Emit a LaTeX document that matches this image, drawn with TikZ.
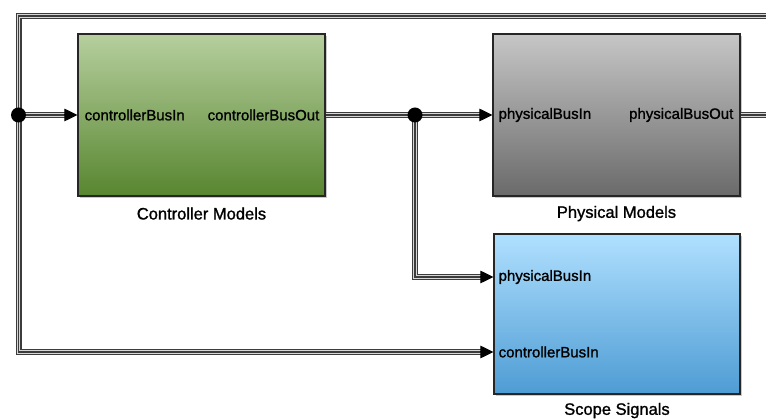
\documentclass[tikz,border=0pt]{standalone}
\usepackage{fontspec}
\setmainfont{Liberation Sans}
\newfontfamily\labelfont[FakeBold=1.2]{Liberation Sans}
\usetikzlibrary{shadows,arrows.meta,calc}

% block fills
\definecolor{greenTop}{RGB}{182,207,158}
\definecolor{greenMid}{RGB}{148,182,114}
\definecolor{greenBot}{RGB}{88,134,48}
\definecolor{grayTop}{RGB}{198,198,198}
\definecolor{grayMid}{RGB}{162,162,162}
\definecolor{grayBot}{RGB}{106,106,106}
\definecolor{blueTop}{RGB}{176,224,255}
\definecolor{blueMid}{RGB}{138,198,240}
\definecolor{blueBot}{RGB}{78,156,212}
\definecolor{busdark}{RGB}{60,60,60}
\definecolor{buslight}{RGB}{215,215,215}

\begin{document}
\begin{tikzpicture}[x=1pt,y=-1pt,
  block/.style={draw=black!85,line width=1.1pt,inner sep=0pt,
    minimum width=247pt,minimum height=162pt,
    drop shadow={shadow xshift=2pt,shadow yshift=-2pt,opacity=0.3,fill=black!70}},
  ctrlfill/.style={top color=greenTop,middle color=greenMid,bottom color=greenBot},
  physfill/.style={top color=grayTop,middle color=grayMid,bottom color=grayBot},
  scopefill/.style={top color=blueTop,middle color=blueMid,bottom color=blueBot},
  porttext/.style={font=\labelfont\fontsize{15}{18}\selectfont,inner sep=0pt,text=black},
  caption/.style={font=\labelfont\fontsize{16.5}{20}\selectfont,inner sep=0pt,text=black},
  bus/.style={draw=busdark,line width=6pt,
    postaction={draw=buslight,line width=3.6pt},
    postaction={draw=busdark,line width=1.4pt}},
  tip/.style={-{Triangle[length=13pt,width=12.5pt]},draw=black,line width=1pt},
  dot/.style={circle,fill=black,minimum size=15pt,inner sep=0pt}]

\useasboundingbox (0,0) rectangle (766,419);

% blocks
\node[block,ctrlfill] (ctrl) at (201.5,115) {};
\node[block,physfill] (phys) at (616.5,115) {};
\node[block,scopefill,minimum width=246pt,minimum height=160pt] (scope) at (617,314) {};

% port coordinates
\coordinate (ctrlIn) at (ctrl.west);
\coordinate (physIn) at (phys.west);
\coordinate (scopeP) at (scope.west |- 0,277);
\coordinate (scopeC) at (scope.west |- 0,352);
\coordinate (rightTop) at (766,16);
\coordinate (rightMid) at (766,115);
\coordinate (cornerTL) at (18.5,16);
\coordinate (cornerBL) at (18.5,352);

% port labels
\node[porttext,anchor=west] (lblCtrlIn) at ($(ctrl.west)+(7,0)$) {controllerBusIn};
\node[porttext,anchor=east] (lblCtrlOut) at ($(ctrl.east)+(-6,0)$) {controllerBusOut};
\node[porttext,anchor=west] (lblPhysIn) at ($(phys.west)+(6,0)$) {physicalBusIn};
\node[porttext,anchor=east] (lblPhysOut) at ($(phys.east)+(-7,0)$) {physicalBusOut};
\node[porttext,anchor=west] (lblScopeP) at ($(scopeP)+(5,0)$) {physicalBusIn};
\node[porttext,anchor=west] (lblScopeC) at ($(scopeC)+(5,0)$) {controllerBusIn};

% block captions
\node[caption] (capCtrl) at ($(ctrl.south)+(0,17)$) {Controller Models};
\node[caption] (capPhys) at ($(phys.south)+(0,17)$) {Physical Models};
\node[caption] (capScope) at ($(scope.south)+(0,16)$) {Scope Signals};

% junction points
\coordinate (jL) at (18.5,115);
\coordinate (jM) at (415,115);

% bus lines
\draw[bus] (rightTop) -- (cornerTL) -- (cornerBL) -- ([xshift=-12pt]scopeC);
\draw[bus] (jL) -- ([xshift=-12pt]ctrlIn);
\draw[bus] (ctrl.east) -- ([xshift=-12pt]physIn);
\draw[bus] (jM) |- ([xshift=-12pt]scopeP);
\draw[bus] (phys.east) -- (rightMid);

% arrow heads at the inputs
\draw[tip] ([xshift=-13pt]ctrlIn) -- (ctrlIn);
\draw[tip] ([xshift=-13pt]physIn) -- (physIn);
\draw[tip] ([xshift=-13pt]scopeP) -- (scopeP);
\draw[tip] ([xshift=-13pt]scopeC) -- (scopeC);

% branch dots
\node[dot] (dotL) at (jL) {};
\node[dot] (dotM) at (jM) {};
\end{tikzpicture}
\end{document}
